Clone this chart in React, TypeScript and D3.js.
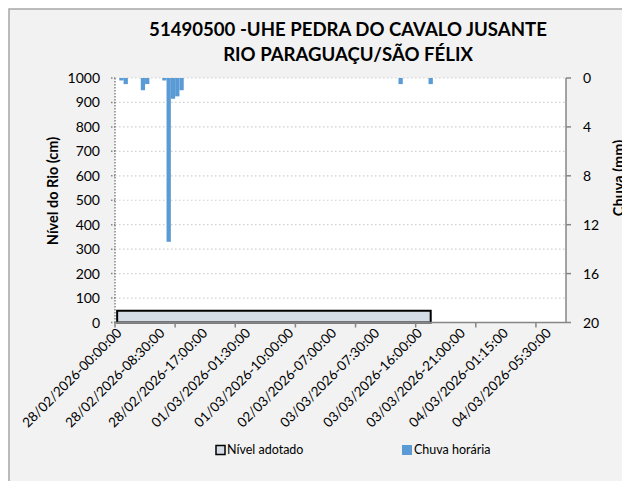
import React from "react";
import * as d3 from "d3";

// categorias do eixo X (registros); rótulo a cada 10, marca a cada 14
const totalCategorias = 105;
const passoRotulo = 10;
const passoMarca = 14;
const rotulosX = [
  "28/02/2026-00:00:00",
  "28/02/2026-08:30:00",
  "28/02/2026-17:00:00",
  "01/03/2026-01:30:00",
  "01/03/2026-10:00:00",
  "02/03/2026-07:00:00",
  "03/03/2026-07:30:00",
  "03/03/2026-16:00:00",
  "03/03/2026-21:00:00",
  "04/03/2026-01:15:00",
  "04/03/2026-05:30:00",
];

// nível adotado (cm): [índice da categoria, valor]
const nivelPontos: [number, number][] = [
  [0, 48],
  [73, 48],
];

// chuva horária (mm)
const chuvaIndices = [1, 2, 6, 7, 11, 12, 13, 14, 15, 66, 73];
const chuvaMm = [0.2, 0.5, 1.0, 0.5, 0.2, 13.4, 1.7, 1.5, 1.0, 0.5, 0.5];

const ticksNivel = [0, 100, 200, 300, 400, 500, 600, 700, 800, 900, 1000];
const ticksChuva = [0, 4, 8, 12, 16, 20];

const W = 622;
const H = 481;
const plot = { left: 115, right: 566, top: 78, bottom: 322.5 };
const fonte = "Lato, 'Open Sans', sans-serif";

export default function App() {
  const x = d3
    .scaleBand<number>()
    .domain(d3.range(totalCategorias))
    .range([plot.left, plot.right])
    .padding(0);
  const bw = x.bandwidth();
  const centro = (i: number) => (x(i) ?? 0) + bw / 2;

  const yNivel = d3.scaleLinear().domain([0, 1000]).range([plot.bottom, plot.top]);
  const yChuva = d3.scaleLinear().domain([0, 20]).range([plot.top, plot.bottom]);

  const area = d3
    .area<[number, number]>()
    .x((d) => centro(d[0]))
    .y0(yNivel(0))
    .y1((d) => yNivel(d[1]));

  const marcas = d3.range(0, totalCategorias, passoMarca);

  return (
    <svg
      width={W}
      height={H}
      style={{ position: "fixed", left: 0, top: 0, background: "#fff" }}
      fontFamily={fonte}
    >
      <rect x={9} y={9} width={700} height={600} fill="#f2f2f2" stroke="#a6a6a6" strokeWidth={1.5} />
      <rect
        x={plot.left}
        y={plot.top}
        width={plot.right - plot.left}
        height={plot.bottom - plot.top}
        fill="#fff"
      />

      {/* título */}
      <text x={348} y={36} textAnchor="middle" fontSize={18.6} fontWeight="bold" fill="#000">
        51490500 -UHE PEDRA DO CAVALO JUSANTE
      </text>
      <text x={348} y={61} textAnchor="middle" fontSize={18.6} fontWeight="bold" fill="#000">
        RIO PARAGUAÇU/SÃO FÉLIX
      </text>

      {/* grade */}
      {ticksNivel
        .filter((t) => t > 0)
        .map((t) => (
          <line
            key={"g" + t}
            x1={plot.left}
            x2={plot.right}
            y1={yNivel(t)}
            y2={yNivel(t)}
            stroke="#d0d0d0"
            strokeWidth={1.2}
            strokeDasharray="1.5,2.5"
          />
        ))}

      {/* nível adotado */}
      <path d={area(nivelPontos) ?? ""} fill="#d6dce5" stroke="#000" strokeWidth={2} />

      {/* chuva */}
      {chuvaIndices.map((i, k) => (
        <rect
          key={"c" + i}
          x={x(i)}
          y={yChuva(0)}
          width={bw}
          height={yChuva(chuvaMm[k]) - yChuva(0)}
          fill="#5b9bd5"
        />
      ))}

      {/* eixo esquerdo */}
      <line
        x1={plot.left}
        x2={plot.left}
        y1={plot.top}
        y2={plot.bottom}
        stroke="#868686"
        strokeWidth={1.5}
        strokeDasharray="1.5,1.5"
      />
      {ticksNivel.map((t) => (
        <g key={"yl" + t}>
          <line
            x1={plot.left - 4}
            x2={plot.left}
            y1={yNivel(t)}
            y2={yNivel(t)}
            stroke="#868686"
            strokeWidth={1.5}
            strokeDasharray="1.5,1.5"
          />
          <text x={100} y={yNivel(t)} dy="0.36em" textAnchor="end" fontSize={14} fill="#000">
            {t}
          </text>
        </g>
      ))}
      <text
        transform={`translate(58,${191}) rotate(-90)`}
        textAnchor="middle"
        fontSize={14.5}
        fontWeight="bold"
        fill="#000"
      >
        Nível do Rio (cm)
      </text>

      {/* eixo direito */}
      <line x1={plot.right} x2={plot.right} y1={plot.top} y2={plot.bottom} stroke="#868686" strokeWidth={1.5} />
      {ticksChuva.map((t) => (
        <g key={"yr" + t}>
          <line x1={plot.right} x2={plot.right + 5} y1={yChuva(t)} y2={yChuva(t)} stroke="#868686" strokeWidth={1.5} />
          <text x={583} y={yChuva(t)} dy="0.36em" fontSize={14} fill="#000">
            {t}
          </text>
        </g>
      ))}
      <text
        transform={`translate(624,${178}) rotate(-90)`}
        textAnchor="middle"
        fontSize={14.5}
        fontWeight="bold"
        fill="#000"
      >
        Chuva (mm)
      </text>

      {/* eixo X */}
      <line x1={plot.left} x2={plot.right} y1={plot.bottom} y2={plot.bottom} stroke="#868686" strokeWidth={1.5} />
      {marcas.map((i) => (
        <line
          key={"m" + i}
          x1={x(i)}
          x2={x(i)}
          y1={plot.bottom}
          y2={plot.bottom + 5}
          stroke="#868686"
          strokeWidth={1.5}
        />
      ))}
      {rotulosX.map((r, k) => {
        const cx = centro(k * passoRotulo) + 2;
        const cy = plot.bottom + 8;
        return (
          <text
            key={r}
            transform={`translate(${cx},${cy}) rotate(-45)`}
            textAnchor="end"
            dy="0.35em"
            fontSize={13.5}
            fill="#000"
          >
            {r}
          </text>
        );
      })}

      {/* legenda */}
      <rect x={216} y={445.5} width={9} height={9} fill="#d6dce5" stroke="#000" strokeWidth={1.5} />
      <text x={227} y={450} dy="0.35em" fontSize={12.5} fill="#000">
        Nível adotado
      </text>
      <rect x={402} y={445} width={10} height={10} fill="#5b9bd5" />
      <text x={414} y={450} dy="0.35em" fontSize={12.5} fill="#000">
        Chuva horária
      </text>
    </svg>
  );
}
